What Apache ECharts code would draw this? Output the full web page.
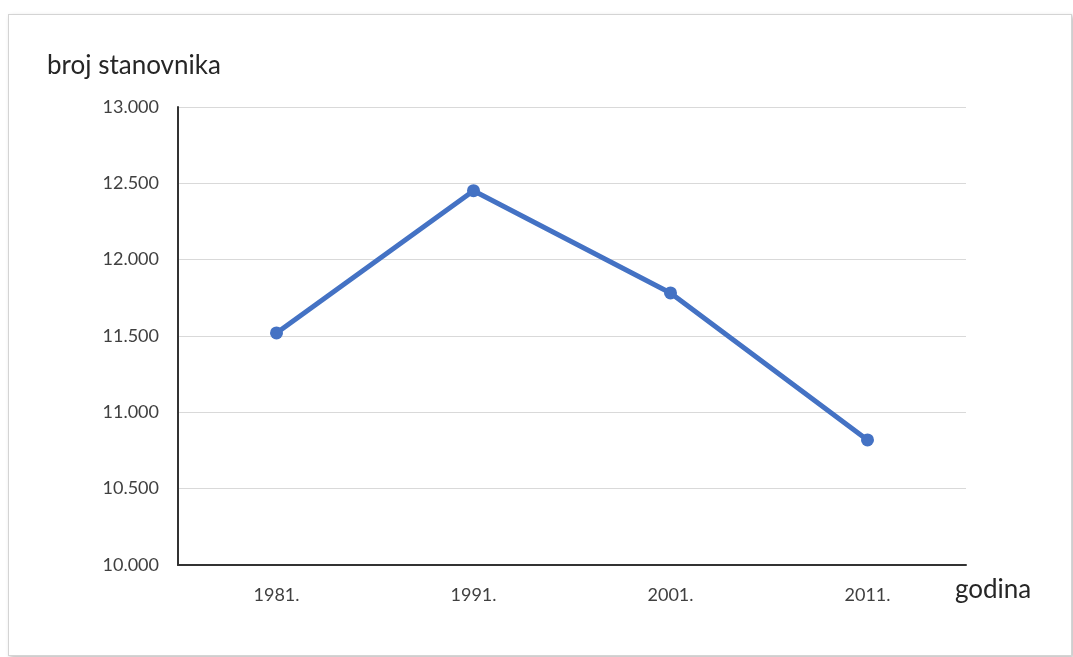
<!DOCTYPE html>
<html>
<head>
<meta charset="utf-8">
<script src="https://cdn.jsdelivr.net/npm/echarts@6/dist/echarts.min.js"></script>
<style>
  html, body { margin: 0; padding: 0; background: #fff; }
  #frame { position: absolute; left: 8px; top: 14px; width: 1062px; height: 640px; border: 1px solid #d4d4d4; box-shadow: 2px 2px 4px rgba(0,0,0,0.25); background: #fff; }
  #chart { position: absolute; left: 0; top: 0; width: 1073px; height: 657px; }
</style>
</head>
<body>
<div id="frame"></div>
<div id="chart"></div>
<script>
const categories = ['1981.', '1991.', '2001.', '2011.'];
const population = [11520, 12452, 11782, 10819];
const yTicks = [10000, 10500, 11000, 11500, 12000, 12500, 13000];

const chart = echarts.init(document.getElementById('chart'));
const fmt = v => String(v).replace(/\B(?=(\d{3})+(?!\d))/g, '.');
chart.setOption({
  animation: false,
  textStyle: { fontFamily: 'Lato' },
  grid: { left: 178, right: 107, top: 107, bottom: 92 },
  xAxis: {
    type: 'category',
    data: categories,
    boundaryGap: true,
    axisLine: { lineStyle: { color: '#333333', width: 2 } },
    axisTick: { show: false },
    axisLabel: { color: '#404040', fontSize: 18, margin: 21, fontFamily: 'Lato' }
  },
  yAxis: {
    type: 'value',
    min: yTicks[0],
    max: yTicks[yTicks.length - 1],
    interval: 500,
    axisLine: { show: true, lineStyle: { color: '#333333', width: 2 } },
    axisTick: { show: false },
    splitLine: { lineStyle: { color: '#d9d9d9', width: 1 } },
    axisLabel: { color: '#404040', fontSize: 18, margin: 19, formatter: fmt, fontFamily: 'Lato' }
  },
  graphic: [
    { type: 'text', left: 47, top: 53, style: { text: 'broj stanovnika', fontSize: 26, fill: '#262626', fontFamily: 'Lato' } },
    { type: 'text', left: 955, top: 577, style: { text: 'godina', fontSize: 26, fill: '#262626', fontFamily: 'Lato' } }
  ],
  series: [{
    type: 'line',
    data: population,
    symbol: 'circle',
    symbolSize: 13,
    lineStyle: { color: '#4472C4', width: 5 },
    itemStyle: { color: '#4472C4' }
  }]
});
</script>
</body>
</html>
